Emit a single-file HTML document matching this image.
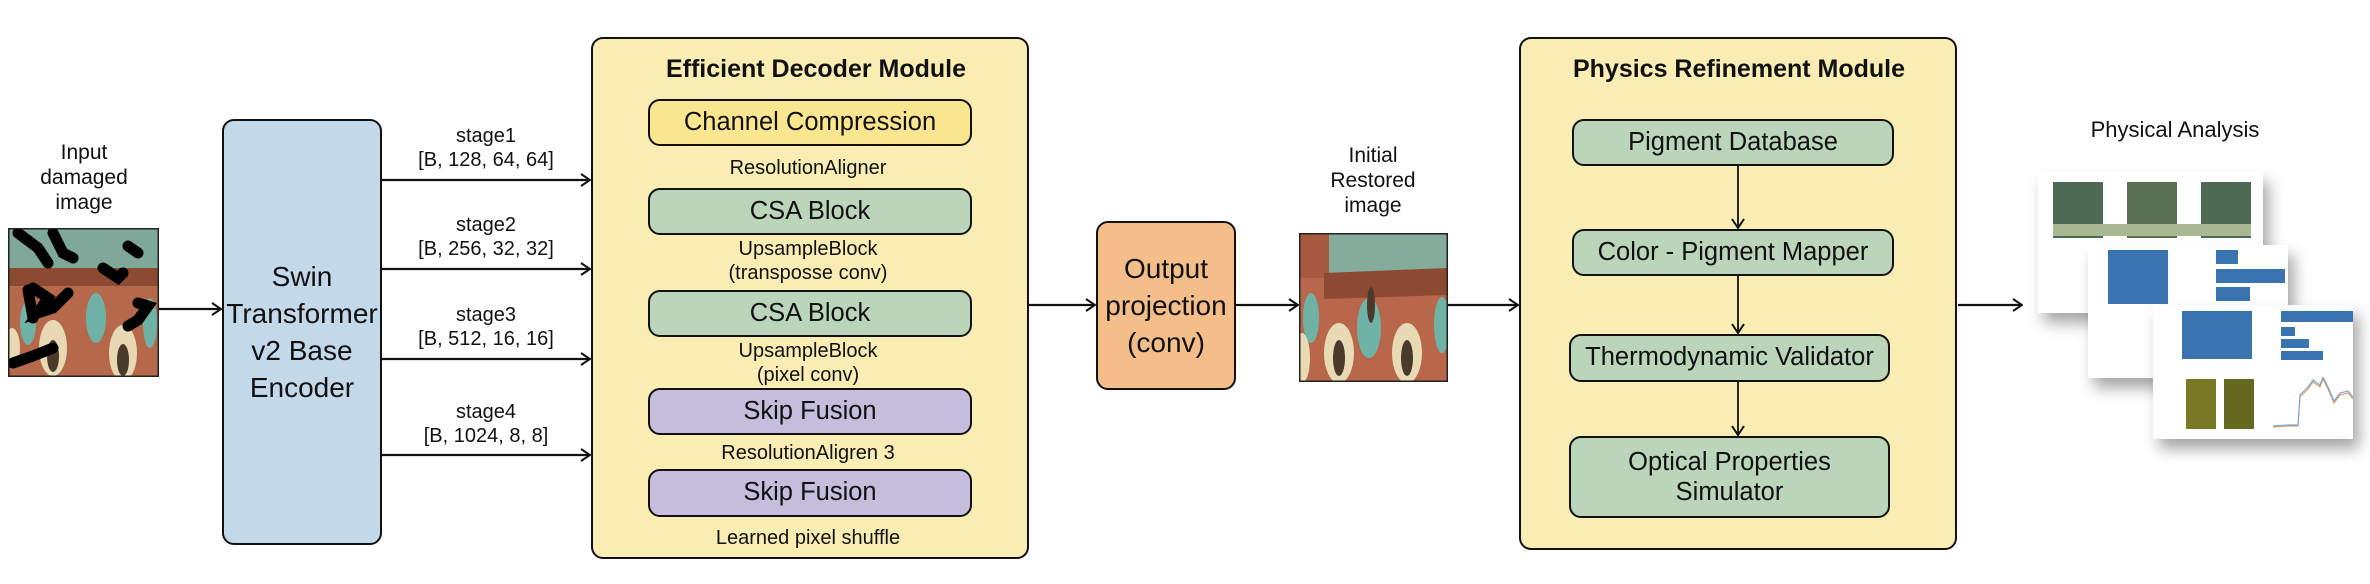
<!DOCTYPE html>
<html><head><meta charset="utf-8"><style>
body{margin:0;width:2370px;height:584px;background:#fff;position:relative;overflow:hidden;font-family:"Liberation Sans",sans-serif;color:#111}
.a{position:absolute}
.box{position:absolute;box-sizing:border-box;border:2.5px solid #111;border-radius:12px;display:flex;align-items:center;justify-content:center;text-align:center;font-size:25.5px;line-height:1.3;white-space:nowrap}
.t{position:absolute;text-align:center;font-size:20px;line-height:24px;white-space:nowrap;transform:translateX(-50%)}
.ttl{position:absolute;font-weight:bold;font-size:25px;white-space:nowrap;transform:translateX(-50%)}
svg{position:absolute;left:0;top:0}
.sheet{position:absolute;background:#fff;box-shadow:6px 10px 14px rgba(0,0,0,0.35)}
</style></head><body>

<svg width="2370" height="584">
<defs><marker id="ar" markerWidth="12" markerHeight="14" refX="11" refY="7" orient="auto" markerUnits="userSpaceOnUse"><path d="M2,1 L11,7 L2,13" fill="none" stroke="#111" stroke-width="2"/></marker></defs>
<g stroke="#111" stroke-width="2.2" fill="none" marker-end="url(#ar)">
<line x1="159" y1="309" x2="221" y2="309"/>
<line x1="382" y1="180" x2="590" y2="180"/>
<line x1="382" y1="269" x2="590" y2="269"/>
<line x1="382" y1="359" x2="590" y2="359"/>
<line x1="382" y1="455" x2="590" y2="455"/>
<line x1="1029" y1="305" x2="1095" y2="305"/>
<line x1="1236" y1="305" x2="1298" y2="305"/>
<line x1="1448" y1="305" x2="1518" y2="305"/>
<line x1="1958" y1="305" x2="2022" y2="305"/>
</g>
</svg>

<div class="t" style="left:84px;top:140px;font-size:21px;line-height:25px">Input<br>damaged<br>image</div>
<svg class="a" style="left:8px;top:228px" width="151" height="149" viewBox="0 0 151 149">
<rect width="151" height="149" fill="#b5694a"/>
<rect width="151" height="45" fill="#7fa89a"/>
<rect y="40" width="151" height="18" fill="#8c4a32"/>
<g fill="#6fb2a6"><ellipse cx="20" cy="95" rx="8" ry="22"/><ellipse cx="88" cy="90" rx="10" ry="25"/><ellipse cx="142" cy="95" rx="7" ry="25"/></g>
<g fill="#e8d9b4"><ellipse cx="45" cy="120" rx="14" ry="28"/><ellipse cx="115" cy="125" rx="14" ry="28"/><ellipse cx="4" cy="120" rx="8" ry="20"/></g>
<g fill="#4a3a2c"><ellipse cx="45" cy="128" rx="6" ry="16"/><ellipse cx="115" cy="132" rx="6" ry="16"/></g>
<g stroke="#000" stroke-width="11" stroke-linecap="round" fill="none">
<path d="M10,5 L30,20 L40,35"/><path d="M45,5 L55,25 L65,30"/><path d="M25,60 L40,70 L30,85 L45,80 L60,65"/><path d="M95,40 L110,50 L115,45"/><path d="M120,18 L130,25"/><path d="M130,75 L140,78 L130,92 L120,98"/><path d="M5,135 L25,128 L45,120"/><path d="M20,62 L25,90"/>
</g>
<rect x="0.75" y="0.75" width="149.5" height="147.5" fill="none" stroke="#222" stroke-width="1.5"/>
</svg>

<div class="box" style="left:222px;top:119px;width:160px;height:426px;background:#c3d9ea;font-size:28px;line-height:37px">Swin<br>Transformer<br>v2 Base<br>Encoder</div>

<div class="t" style="left:486px;top:124px">stage1<br>[B, 128, 64, 64]</div>
<div class="t" style="left:486px;top:213px">stage2<br>[B, 256, 32, 32]</div>
<div class="t" style="left:486px;top:303px">stage3<br>[B, 512, 16, 16]</div>
<div class="t" style="left:486px;top:400px">stage4<br>[B, 1024, 8, 8]</div>

<div class="box" style="left:591px;top:37px;width:438px;height:522px;background:#f9edb4"></div>
<div class="ttl" style="left:816px;top:55px">Efficient Decoder Module</div>
<div class="box" style="left:648px;top:99px;width:324px;height:47px;background:#f9e68f">Channel Compression</div>
<div class="t" style="left:808px;top:156px">ResolutionAligner</div>
<div class="box" style="left:648px;top:188px;width:324px;height:47px;background:#bad5b9">CSA Block</div>
<div class="t" style="left:808px;top:237px">UpsampleBlock<br>(transposse conv)</div>
<div class="box" style="left:648px;top:290px;width:324px;height:47px;background:#bad5b9">CSA Block</div>
<div class="t" style="left:808px;top:339px">UpsampleBlock<br>(pixel conv)</div>
<div class="box" style="left:648px;top:388px;width:324px;height:47px;background:#c4bddc">Skip Fusion</div>
<div class="t" style="left:808px;top:441px">ResolutionAligren 3</div>
<div class="box" style="left:648px;top:469px;width:324px;height:48px;background:#c4bddc">Skip Fusion</div>
<div class="t" style="left:808px;top:526px">Learned pixel shuffle</div>

<div class="box" style="left:1096px;top:221px;width:140px;height:169px;background:#f4be8a;font-size:28px;line-height:37px">Output<br>projection<br>(conv)</div>

<div class="t" style="left:1373px;top:143px;font-size:21px;line-height:25px">Initial<br>Restored<br>image</div>
<svg class="a" style="left:1299px;top:233px" width="149" height="149" viewBox="0 0 149 149">
<rect width="149" height="149" fill="#b8674a"/>
<rect width="149" height="42" fill="#85ab9c"/>
<rect x="0" width="30" height="45" fill="#a85a40"/>
<path d="M25,40 L149,35 L149,62 L25,66Z" fill="#8c4a33"/>
<g fill="#6fb3a7"><ellipse cx="12" cy="85" rx="8" ry="25"/><ellipse cx="70" cy="95" rx="12" ry="30"/><ellipse cx="143" cy="92" rx="8" ry="28"/></g>
<g fill="#e9dab6"><ellipse cx="40" cy="120" rx="15" ry="30"/><ellipse cx="108" cy="120" rx="15" ry="30"/><ellipse cx="3" cy="125" rx="8" ry="25"/></g>
<g fill="#4a3a2c"><ellipse cx="40" cy="125" rx="6" ry="18"/><ellipse cx="108" cy="125" rx="6" ry="18"/><ellipse cx="72" cy="72" rx="4" ry="18"/></g>
<rect x="0.75" y="0.75" width="147.5" height="147.5" fill="none" stroke="#222" stroke-width="1.5"/>
</svg>

<div class="box" style="left:1519px;top:37px;width:438px;height:513px;background:#f9edb4"></div>
<div class="ttl" style="left:1739px;top:55px">Physics Refinement Module</div>
<svg width="2370" height="584" style="pointer-events:none">
<g stroke="#111" stroke-width="1.8" fill="none" marker-end="url(#ar)">
<line x1="1738" y1="166" x2="1738" y2="228"/>
<line x1="1738" y1="276" x2="1738" y2="333"/>
<line x1="1738" y1="382" x2="1738" y2="435"/>
</g>
</svg>
<div class="box" style="left:1572px;top:119px;width:322px;height:47px;background:#bad5b9">Pigment Database</div>
<div class="box" style="left:1572px;top:229px;width:322px;height:47px;background:#bad5b9">Color - Pigment Mapper</div>
<div class="box" style="left:1569px;top:334px;width:321px;height:48px;background:#bad5b9">Thermodynamic Validator</div>
<div class="box" style="left:1569px;top:436px;width:321px;height:82px;background:#bad5b9;line-height:30px">Optical Properties<br>Simulator</div>

<div class="t" style="left:2175px;top:118px;font-size:22px">Physical Analysis</div>

<div class="sheet" style="left:2038px;top:172px;width:225px;height:141px">
 <div class="a" style="left:15px;top:10px;width:50px;height:56px;background:#4e6a55"></div>
 <div class="a" style="left:89px;top:10px;width:50px;height:56px;background:#5a7055"></div>
 <div class="a" style="left:163px;top:10px;width:50px;height:56px;background:#4e6a55"></div>
 <div class="a" style="left:15px;top:52px;width:198px;height:12px;background:#a8b890"></div>
</div>
<div class="sheet" style="left:2088px;top:245px;width:200px;height:133px">
 <div class="a" style="left:20px;top:5px;width:60px;height:54px;background:#3a74b0"></div>
 <div class="a" style="left:128px;top:5px;width:22px;height:14px;background:#3a74b0"></div>
 <div class="a" style="left:128px;top:24px;width:69px;height:14px;background:#3a74b0"></div>
 <div class="a" style="left:128px;top:42px;width:34px;height:14px;background:#3a74b0"></div>
</div>
<div class="sheet" style="left:2153px;top:305px;width:200px;height:134px">
 <div class="a" style="left:29px;top:6px;width:70px;height:48px;background:#3a74b0"></div>
 <div class="a" style="left:128px;top:6px;width:72px;height:11px;background:#3a74b0"></div>
 <div class="a" style="left:128px;top:22px;width:14px;height:9px;background:#3a74b0"></div>
 <div class="a" style="left:128px;top:34px;width:28px;height:9px;background:#3a74b0"></div>
 <div class="a" style="left:128px;top:46px;width:42px;height:9px;background:#3a74b0"></div>
 <div class="a" style="left:33px;top:74px;width:30px;height:50px;background:#7a7a26"></div>
 <div class="a" style="left:71px;top:74px;width:30px;height:50px;background:#67681f"></div>
 <svg class="a" style="left:115px;top:72px" width="85" height="55"><polyline points="5,50 20,49 30,49 32,20 40,12 45,5 52,10 55,2 60,12 66,26 72,18 80,16 85,22" fill="none" stroke="#e8a060" stroke-width="1.2"/><polyline points="5,49 20,48 30,48 32,18 40,10 45,3 52,8 55,0 60,10 66,24 72,16 80,14 85,20" fill="none" stroke="#7aa8d8" stroke-width="1.2"/></svg>
</div>
</body></html>
